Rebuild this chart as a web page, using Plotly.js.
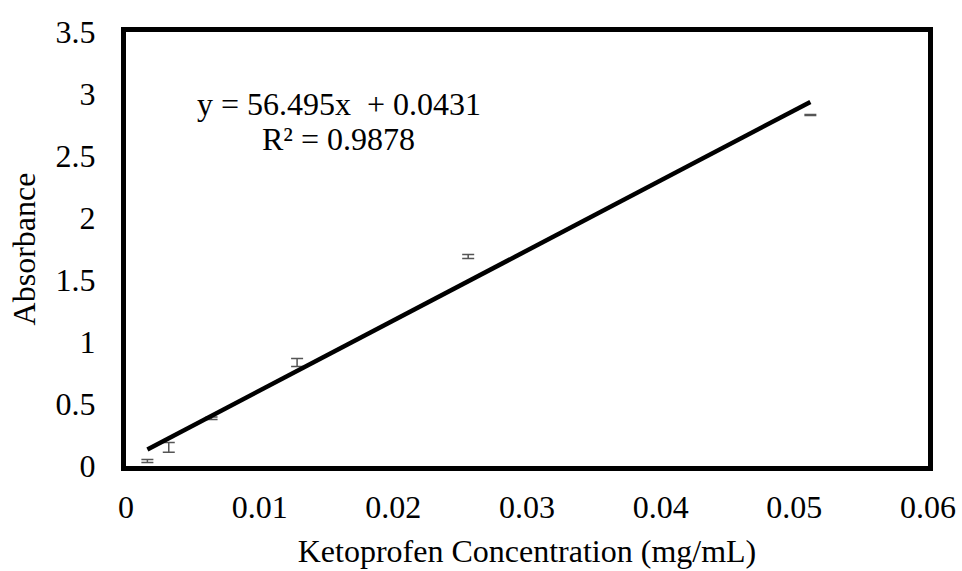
<!DOCTYPE html>
<html>
<head>
<meta charset="utf-8">
<script src="https://cdn.plot.ly/plotly-3.0.1.min.js"></script>
<style>html,body{margin:0;padding:0;background:#fff;}#chart{width:962px;height:571px;}</style>
</head>
<body>
<div id="chart"></div>
<script>
// Data
const concentration = [0.0016, 0.0032, 0.0064, 0.0128, 0.0256, 0.0512];
const absorbance    = [0.04, 0.15, 0.385, 0.835, 1.69, 2.83];
const absError      = [0.012, 0.04, 0.01, 0.032, 0.016, 0.004];
const slope = 56.495;
const intercept = 0.0431;
const rSquared = 0.9878;
const xTicks = [0, 0.01, 0.02, 0.03, 0.04, 0.05, 0.06];
const yTicks = [0, 0.5, 1, 1.5, 2, 2.5, 3, 3.5];

const fitX = [concentration[0], concentration[concentration.length - 1]];
const fitY = fitX.map(v => slope * v + intercept);

const font = {family: '"Liberation Serif", "Times New Roman", serif', size: 32, color: '#000'};

const traces = [
  {
    x: concentration, y: absorbance, type: 'scatter', mode: 'markers',
    marker: {size: 1, color: 'rgba(0,0,0,0)'},
    error_y: {type: 'data', array: absError, visible: true, color: '#555', thickness: 1.5, width: 6},
    showlegend: false, hoverinfo: 'skip'
  },
  {
    x: fitX, y: fitY, type: 'scatter', mode: 'lines',
    line: {color: '#000', width: 4.5},
    showlegend: false, hoverinfo: 'skip'
  }
];

const layout = {
  width: 962, height: 571,
  margin: {l: 126, r: 34, t: 32, b: 105},
  paper_bgcolor: '#fff', plot_bgcolor: '#fff',
  font: font,
  showlegend: false,
  xaxis: {
    range: [0, 0.06], tickvals: xTicks, ticktext: xTicks.map(String),
    showgrid: false, zeroline: false,
    showline: true, linecolor: '#000', linewidth: 5, mirror: true,
    ticks: 'outside', ticklen: 9, tickcolor: 'rgba(0,0,0,0)',
    tickfont: font,
    title: {text: 'Ketoprofen Concentration (mg/mL)', font: font, standoff: 17}
  },
  yaxis: {
    range: [0, 3.5], tickvals: yTicks, ticktext: yTicks.map(String),
    showgrid: false, zeroline: false,
    showline: true, linecolor: '#000', linewidth: 5, mirror: true,
    ticks: 'outside', ticklen: 19, tickcolor: 'rgba(0,0,0,0)',
    tickfont: font,
    title: {text: 'Absorbance', font: font, standoff: 12}
  },
  annotations: [
    {xref: 'x', yref: 'y', x: 0.0159, y: 2.92, text: 'y = ' + slope + 'x  + ' + intercept,
     showarrow: false, font: font, xanchor: 'center', yanchor: 'middle'},
    {xref: 'x', yref: 'y', x: 0.0159, y: 2.64, text: 'R² = ' + rSquared,
     showarrow: false, font: font, xanchor: 'center', yanchor: 'middle'}
  ]
};

Plotly.newPlot('chart', traces, layout, {displayModeBar: false, staticPlot: true});
</script>
</body>
</html>
